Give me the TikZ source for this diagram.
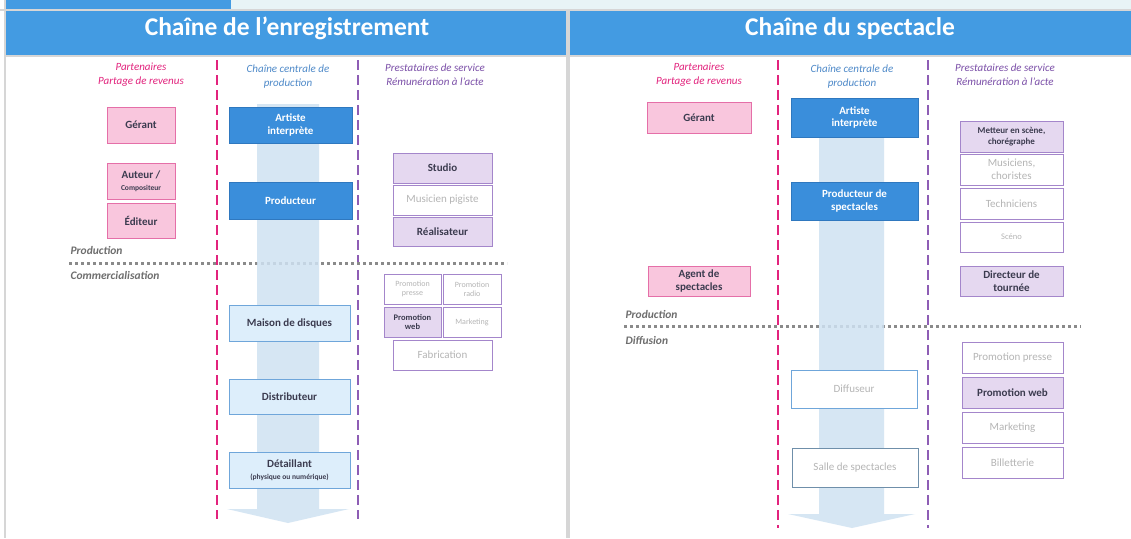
\documentclass[tikz,border=0pt]{standalone}
\usepackage{fontspec}
\setmainfont{Carlito}
\usetikzlibrary{calc,backgrounds}
\definecolor{HeadBlue}{HTML}{439BE2}
\definecolor{TopCyan}{HTML}{E8F4F6}
\definecolor{FrameGray}{HTML}{D6D6D6}
\definecolor{Pink}{HTML}{E2237D}
\definecolor{PinkFill}{HTML}{F9C6DD}
\definecolor{PinkLine}{HTML}{E56FA8}
\definecolor{CoreBlue}{HTML}{3A8EDB}
\definecolor{CoreLine}{HTML}{2F78BF}
\definecolor{CoreText}{HTML}{4F8AC9}
\definecolor{StepFill}{HTML}{DDEEFB}
\definecolor{StepLine}{HTML}{6FA6DA}
\definecolor{ArrowBlue}{HTML}{CFE2F2}
\definecolor{Purple}{HTML}{8E5DB5}
\definecolor{PurpleText}{HTML}{7B4FA8}
\definecolor{PurpleFill}{HTML}{E5D8F0}
\definecolor{PurpleLine}{HTML}{A486CB}
\definecolor{Faint}{HTML}{B5B5B5}
\definecolor{BoxText}{HTML}{3B3B4F}
\definecolor{LabelGray}{HTML}{6E6E6E}
\definecolor{DotGray}{HTML}{8A8A8A}
\definecolor{SalleLine}{HTML}{6F8FAA}

\tikzset{
    boxsize/.style 2 args={minimum width=#1, minimum height=#2},
    box/.style={draw, line width=0.8pt, inner sep=1pt, align=center, text=BoxText,
        font=\bfseries\fontsize{11}{12.5}\selectfont},
    partbox/.style={box, fill=PinkFill, draw=PinkLine},
    corebox/.style={box, fill=CoreBlue, draw=CoreLine, text=white},
    stepbox/.style={box, fill=StepFill, draw=StepLine},
    faintstep/.style={box, fill=white, draw=StepLine, text=Faint, font=\fontsize{11}{12.5}\selectfont},
    servbox/.style={box, fill=PurpleFill, draw=PurpleLine},
    faintserv/.style={box, fill=white, draw=PurpleLine, text=Faint, font=\fontsize{11}{12.5}\selectfont},
    colhead/.style={align=center, font=\itshape\fontsize{11}{14}\selectfont},
    phase/.style={anchor=west, text=LabelGray, font=\bfseries\itshape\fontsize{11.5}{13}\selectfont},
    title/.style={anchor=base, text=white, font=\bfseries\fontsize{25.5}{30}\selectfont},
    pinkdash/.style={Pink, line width=1.8pt, dash pattern=on 10pt off 5pt},
    purpledash/.style={Purple, line width=1.8pt, dash pattern=on 10pt off 5pt},
    phaseline/.style={DotGray, line width=3pt, dash pattern=on 3pt off 3pt},
    flow/.style={fill=ArrowBlue, fill opacity=0.85},
}

\begin{document}
\begin{tikzpicture}[x=1pt, y=-1pt]

    \useasboundingbox (0,0) rectangle (1131,538);

    % frame and header strip
    \fill[white] (0,0) rectangle (1131,538);
    \fill[TopCyan] (231,0) rectangle (1131,9);
    \fill[HeadBlue] (6,0) rectangle (231,9);
    \fill[FrameGray] (0,9) rectangle (1131,11);
    \fill[FrameGray] (3.5,0) rectangle (6,538);
    \fill[FrameGray] (566,11) rectangle (570,538);
    \fill[FrameGray] (6,55) rectangle (1131,57);

    % ---------------- Chaine de l'enregistrement ----------------
    \fill[HeadBlue] (6,11) rectangle (566,55);
    \node[title] (titleA) at (287,35) {Chaîne de l’enregistrement};

    \node[colhead, text=Pink] (partA) at (141,75) {Partenaires\\Partage de revenus};
    \node[colhead, text=CoreText] (coreA) at (288,77) {Chaîne centrale de\\production};
    \node[colhead, text=PurpleText] (servA) at (435,75) {Prestataires de service\\Rémunération à l’acte};

    \draw[pinkdash] (217,60) -- (217,519);
    \draw[purpledash] (358,60) -- (358,519);

    \node[phase] (prodA) at (67,251) {Production};
    \draw[phaseline] (69,263) -- (507,263);
    \node[phase] (commA) at (67,275) {Commercialisation};

    \fill[flow] (257,104) -- (319,104) -- (319,509) -- (349,509) -- (288,523)
        -- (227,509) -- (257,509) -- cycle;

    \node[partbox, boxsize={68pt}{36pt}] (gerantA) at (141,125) {Gérant};
    \node[partbox, boxsize={68pt}{36pt}] (auteurA) at (141,181)
        {Auteur /\\[-1pt]{\fontsize{7.5}{8.5}\selectfont Compositeur}};
    \node[partbox, boxsize={68pt}{35pt}] (editeurA) at (141,221) {Éditeur};

    \node[corebox, boxsize={123pt}{36pt}] (artisteA) at (290.5,125) {Artiste\\interprète};
    \node[corebox, boxsize={123pt}{37pt}] (producteurA) at (290.5,200.5) {Producteur};
    \node[stepbox, boxsize={121pt}{36pt}] (maisonA) at (289.5,323) {Maison de disques};
    \node[stepbox, boxsize={121pt}{35pt}] (distribA) at (289.5,396.5) {Distributeur};
    \node[stepbox, boxsize={121pt}{36pt}] (detailA) at (289.5,470)
        {Détaillant\\[-1pt]{\fontsize{7.5}{8.5}\selectfont (physique ou numérique)}};

    \node[servbox, boxsize={99pt}{30pt}] (studioA) at (442.5,168) {Studio};
    \node[faintserv, boxsize={99pt}{30pt}] (musicienA) at (442.5,200) {Musicien pigiste};
    \node[servbox, boxsize={99pt}{29pt}] (realisA) at (442.5,231.5) {Réalisateur};

    \node[faintserv, boxsize={57pt}{30pt}, font=\fontsize{8}{9}\selectfont] (presseA) at (412.5,289) {Promotion\\presse};
    \node[faintserv, boxsize={58pt}{30pt}, font=\fontsize{8}{9}\selectfont] (radioA) at (472,289) {Promotion\\radio};
    \node[servbox, boxsize={57pt}{30pt}, font=\bfseries\fontsize{8.5}{9.5}\selectfont] (webA) at (412.5,322) {Promotion\\web};
    \node[faintserv, boxsize={58pt}{30pt}, font=\fontsize{8}{9}\selectfont] (marketA) at (472,322) {Marketing};
    \node[faintserv, boxsize={99pt}{30pt}] (fabricA) at (442.5,355) {Fabrication};

    % ---------------- Chaine du spectacle ----------------
    \fill[HeadBlue] (570,11) rectangle (1131,55);
    \node[title] (titleB) at (850,35) {Chaîne du spectacle};

    \node[colhead, text=Pink] (partB) at (699,75) {Partenaires\\Partage de revenus};
    \node[colhead, text=CoreText] (coreB) at (852,77) {Chaîne centrale de\\production};
    \node[colhead, text=PurpleText] (servB) at (1005,75) {Prestataires de service\\Rémunération à l’acte};

    \draw[pinkdash] (778,60) -- (778,528);
    \draw[purpledash] (928,60) -- (928,528);

    \node[phase] (prodB) at (622,314) {Production};
    \draw[phaseline] (624,326) -- (1081,326);
    \node[phase] (diffB) at (622,340) {Diffusion};

    \fill[flow] (819,136) -- (884,136) -- (884,514) -- (915,514) -- (852,528)
        -- (788,514) -- (819,514) -- cycle;

    \node[partbox, boxsize={104pt}{31pt}] (gerantB) at (699,117.5) {Gérant};
    \node[partbox, boxsize={102pt}{30pt}] (agentB) at (699,281) {Agent de\\spectacles};

    \node[corebox, boxsize={127pt}{39pt}] (artisteB) at (854.5,117.5) {Artiste\\interprète};
    \node[corebox, boxsize={127pt}{38pt}] (producteurB) at (854.5,201) {Producteur de\\spectacles};
    \node[faintstep, boxsize={126pt}{38pt}] (diffuseurB) at (854,389) {Diffuseur};
    \node[faintstep, draw=SalleLine, boxsize={126pt}{39pt}] (salleB) at (855,468) {Salle de spectacles};

    \node[servbox, boxsize={103pt}{31pt}, font=\bfseries\fontsize{9}{10.5}\selectfont] (metteurB) at (1011.5,136.5)
        {Metteur en scène,\\chorégraphe};
    \node[faintserv, boxsize={103pt}{31pt}] (musiciensB) at (1011.5,169.5) {Musiciens,\\choristes};
    \node[faintserv, boxsize={103pt}{31pt}] (techB) at (1011.5,203.5) {Techniciens};
    \node[faintserv, boxsize={103pt}{30pt}, font=\fontsize{8.5}{9.5}\selectfont] (scenoB) at (1011.5,237) {Scéno};
    \node[servbox, boxsize={103pt}{30pt}] (directeurB) at (1011.5,281) {Directeur de\\tournée};

    \node[faintserv, boxsize={101pt}{31pt}] (presseB) at (1012.5,357.5) {Promotion presse};
    \node[servbox, boxsize={101pt}{31pt}] (webB) at (1012.5,392.5) {Promotion web};
    \node[faintserv, boxsize={101pt}{31pt}] (marketB) at (1012.5,427.5) {Marketing};
    \node[faintserv, boxsize={101pt}{31pt}] (billetB) at (1012.5,462.5) {Billetterie};

\end{tikzpicture}
\end{document}
